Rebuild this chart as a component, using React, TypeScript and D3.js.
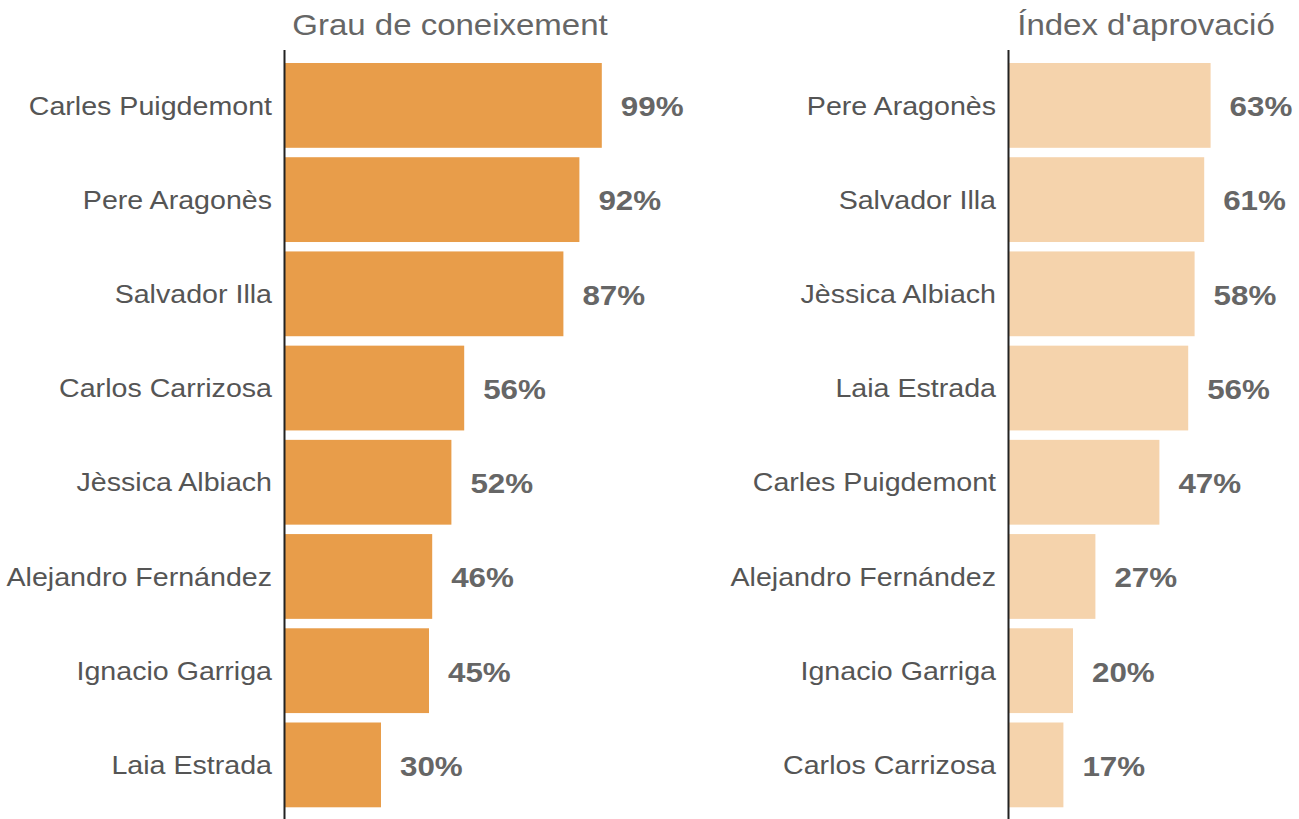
import React from 'react';
import * as d3 from 'd3';

const width = 1299;
const height = 819;

// left panel: coneixement
const namesKnow = ['Carles Puigdemont', 'Pere Aragonès', 'Salvador Illa', 'Carlos Carrizosa', 'Jèssica Albiach', 'Alejandro Fernández', 'Ignacio Garriga', 'Laia Estrada'];
const valuesKnow = [99, 92, 87, 56, 52, 46, 45, 30];

// right panel: aprovació
const namesApprove = ['Pere Aragonès', 'Salvador Illa', 'Jèssica Albiach', 'Laia Estrada', 'Carles Puigdemont', 'Alejandro Fernández', 'Ignacio Garriga', 'Carlos Carrizosa'];
const valuesApprove = [63, 61, 58, 56, 47, 27, 20, 17];

const titles = ['Grau de coneixement', "Índex d'aprovació"];

const font = '"Liberation Sans", Arial, sans-serif';
const sx = 1.1; // text in the original is a bit wider

function Txt({ x, y, children, ...rest }: any) {
  return (
    <text transform={`translate(${x},${y}) scale(${sx},1)`} fontFamily={font} {...rest}>{children}</text>
  );
}

function Panel({ names, values, x0, color, title, titleX }: any) {
  const x = d3.scaleLinear().domain([0, 100]).range([x0, x0 + 320]);
  const y = d3.scaleBand<string>().domain(names).range([58.3, 812]).paddingInner(0.1).paddingOuter(0.05);
  return (
    <g>
      <Txt x={titleX} y={35} textAnchor="middle" fontSize={30} fill="#666">{title}</Txt>
      {names.map((n: string, i: number) => {
        const cy = (y(n) as number) + y.bandwidth() / 2;
        return (
          <g key={n}>
            <rect x={x(0)} y={y(n)} width={x(values[i]) - x(0)} height={y.bandwidth()} fill={color} />
            <Txt x={x0 - 13} y={cy} dy="0.35em" textAnchor="end" fontSize={26} fill="#555">{n}</Txt>
            <Txt x={x(values[i]) + 19} y={cy} dy="0.38em" fontSize={28.5} fontWeight="bold" fill="#666">{values[i]}%</Txt>
          </g>
        );
      })}
      <line x1={x0 - 0.5} x2={x0 - 0.5} y1={50} y2={height} stroke="#222" strokeWidth={2} />
    </g>
  );
}

export default function App() {
  return (
    <svg width={width} height={height} style={{ position: 'absolute', left: 0, top: 0, background: '#fff' }}>
      <Panel names={namesKnow} values={valuesKnow} x0={285} color="#E89D4A" title={titles[0]} titleX={450} />
      <Panel names={namesApprove} values={valuesApprove} x0={1009} color="#F5D3AC" title={titles[1]} titleX={1146} />
    </svg>
  );
}
